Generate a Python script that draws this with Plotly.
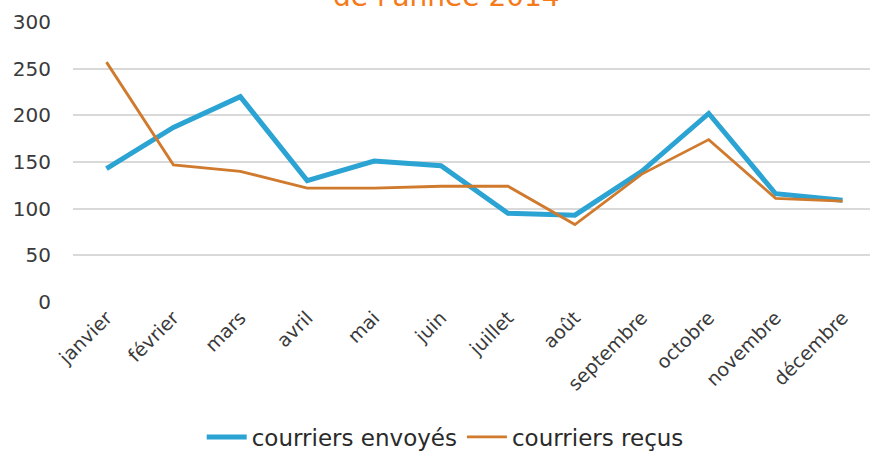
import plotly.graph_objects as go

mois = ["janvier", "février", "mars", "avril", "mai", "juin", "juillet",
        "août", "septembre", "octobre", "novembre", "décembre"]
courriers_envoyes = [143, 187, 220, 130, 151, 146, 95, 93, 140, 202, 116, 109]
courriers_recus = [257, 147, 140, 122, 122, 124, 124, 83, 137, 174, 111, 108]
y_ticks = [0, 50, 100, 150, 200, 250, 300]

FONT = "'DejaVu Sans', sans-serif"

fig = go.Figure()
fig.add_trace(go.Scatter(x=mois, y=courriers_envoyes, mode="lines",
                         name="courriers envoyés",
                         line=dict(color="#2ba3d3", width=5)))
fig.add_trace(go.Scatter(x=mois, y=courriers_recus, mode="lines",
                         name="courriers reçus",
                         line=dict(color="#d07a2e", width=2.8)))

fig.update_layout(
    width=870, height=452,
    margin=dict(l=73, r=0, t=22, b=150, autoexpand=False),
    paper_bgcolor="white", plot_bgcolor="white",
    font=dict(family=FONT, color="#3a3a3a", size=19),
    showlegend=True,
    legend=dict(orientation="h", x=0.467, xanchor="center", y=-0.482,
                yanchor="middle", font=dict(size=23, color="#2a2a2a"),
                itemwidth=40, tracegroupgap=0),
    annotations=[dict(text="de l'année 2014", xref="paper", yref="paper",
                      x=(446.5 - 73) / 797, y=1, yanchor="bottom", yshift=7,
                      showarrow=False,
                      font=dict(family=FONT, size=28, color="#f57a1a"))],
)
fig.update_xaxes(range=[-0.5, 11.41], showgrid=False, zeroline=False,
                 showline=False, tickangle=-45, ticks="", automargin=False,
                 tickfont=dict(size=19, color="#3a3a3a"))
fig.update_yaxes(range=[0, 300], tickvals=y_ticks, showgrid=True,
                 gridcolor="#d9d9d9", gridwidth=1.5, zeroline=False,
                 showline=False, ticks="", automargin=False,
                 ticklabelstandoff=21,
                 tickfont=dict(size=20, color="#3a3a3a"))

fig.write_html("out.html", config={"displayModeBar": False},
               post_script="document.body.style.margin='0';")
